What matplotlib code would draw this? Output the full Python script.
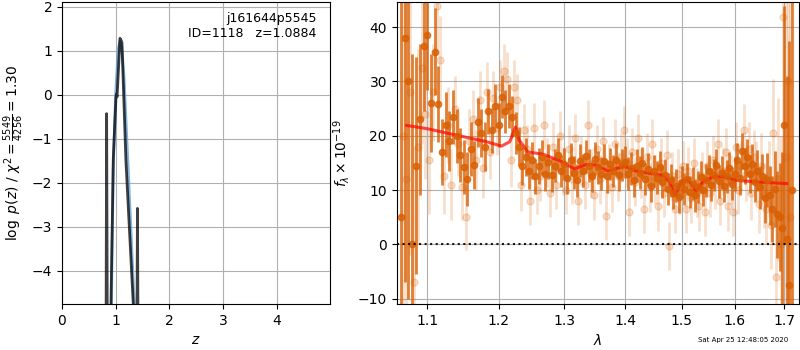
import matplotlib
matplotlib.use('Agg')
import matplotlib.pyplot as plt
from matplotlib.ticker import NullLocator
import numpy as np

# p(z) panel
z_chi = [0.78, 0.815, 0.831, 0.85, 0.89, 0.912, 0.955, 1.005, 1.017, 1.025, 1.04, 1.079, 1.095, 1.116,
         1.19, 1.327, 1.345, 1.385, 1.405, 1.425, 1.55]
logp_chi = [-8, -8, -0.43, -8, -8, -4.75, -1.46, -0.05, 0.02, -0.05, 0.3, 1.28, 1.25, 1.18,
            -1.5, -4.75, -8, -8, -2.58, -8, -8]
z_pz = [0.89, 0.92, 0.955, 0.998, 1.048, 1.08, 1.11, 1.153, 1.233, 1.345, 1.37]
logp_pz = [-7, -4.75, -1.6, 0.0, 1.05, 1.22, 1.1, 0.44, -1.69, -4.75, -6]

# spectrum panel, grism 1 (dark) and grism 2 (light)
wave1 = np.round(np.arange(1.065, 1.7151, 0.005), 4)
flux1 = [5, 38, 30, 0, 14.5, 23, 36.5, 38.5, 26, 35.5,
         25.8, 17, 22, 19, 23.5, 20, 16.5, 14.2, 12, 17.5,
         14.6, 22.5, 20.5, 18, 24.5, 21, 25.5, 22, 27.2, 24.5,
         25.5, 23.5, 20.5, 18, 14.5, 16, 13.5, 15.5, 12.5, 14.5,
         16, 13, 15.2, 12.8, 14.5, 16.5, 13.5, 14.8, 12.2, 15.6,
         13.2, 11.8, 15.4, 13.6, 16.2, 14.5, 12.6, 15.8, 14.2, 13.0,
         15.4, 12.5, 14.8, 13.5, 15.6, 12.8, 14.6, 15.2, 13.0, 14.0,
         11.8, 14.5, 13.2, 15.0, 12.0, 13.8, 10.8, 13.5, 12.3, 14.2,
         11.5, 12.8, 10.2, 11.8, 9.5, 10.8, 8.8, 11.5, 10.2, 12.0,
         9.6, 11.2, 9.0, 10.6, 12.4, 10.0, 11.8, 13.5, 11.0, 12.8,
         14.6, 11.6, 13.2, 10.8, 12.5, 14.0, 11.2, 13.0, 15.5, 12.2,
         17.2, 14.5, 16.0, 13.0, 14.8, 11.5, 13.6, 10.5, 12.5, 8.5,
         11.8, 9.0, 6.5, 10.2, 5.5, 5.0, 3, 22, 1, -7.5, 10]
err1 = [60, 45, 40, 35, 20, 14, 12, 10, 9, 8,
        7, 6, 6, 5.5, 5, 5, 5, 5, 5, 5,
        4.5, 4.5, 4.5, 4.5, 4.2, 4.2, 4, 4, 4, 4,
        4, 3.8, 3.8, 3.6, 3.5, 3.5, 3.4, 3.4, 3.3, 3.3,
        3.2, 3.2, 3.2, 3.1, 3.1, 3, 3, 3, 3, 3,
        3, 3, 3, 3, 3, 3, 3, 3, 3, 3,
        3, 3, 3, 3, 3, 3, 3, 3, 3, 3,
        3, 3, 3, 3, 3, 3, 3, 3, 3, 3,
        3, 3, 3, 3, 3, 3, 3, 3, 3, 3,
        3, 3, 3, 3, 3, 3, 3, 3, 3, 3,
        3, 3, 3, 3, 3, 3, 3.1, 3.1, 3.2, 3.2,
        3.3, 3.3, 3.4, 3.5, 3.6, 3.7, 3.8, 4, 4.2, 4.5,
        5, 5.5, 6, 7, 8, 10, 14, 22, 30, 45, 60]

wave2 = np.round(np.arange(1.0675, 1.7126, 0.005), 4)
flux2 = [20, 12, 28, -7, 18, 32.5, 24, 15.5, 28, 44,
         34, 12.5, 22, 11, 25, 18.5, 10.5, 5, 19, 23,
         15.5, 26.5, 14, 28, 17, 27, 21.5, 29, 32, 30.5,
         15.5, 29, 26.5, 11, 21, 17.5, 8, 21.5, 10, 12.5,
         22, 15, 9.5, 18, 11, 20, 13.5, 10, 17.5, 12,
         19.5, 8, 15.5, 11, 22, 13, 9, 17.5, 12, 19,
         5.3, 14, 10.5, 18.5, 12.5, 16, 21, 15, 6, 17,
         11.5, 19.5, 13, 6.5, 16, 10.5, 18.5, 12, 7, 15,
         9.5, 16.5, -0.3, 12.5, 6.5, 13, 10, 14.5, 6.5, 13.5,
         8.5, 15, 9.5, 7, 12.5, 6, 14.5, 9.5, 15.5, 11,
         18.5, 8, 13.5, 17, 7, 12, 6, 18, 10, 14.5,
         21, 13, 17.5, 9.5, 16, 13.5, 7.5, 14.5, 9, 6.5,
         12, 3.5, 20.5, -6, 12, 0, 41.8, 16, 30, 5]
err2 = [50, 40, 30, 25, 18, 14, 12, 10, 9, 9,
        8, 7, 7, 6.5, 6, 6, 6, 6, 6, 5.5,
        5.5, 5.5, 5.5, 5.5, 5, 5, 5, 5, 5, 5,
        5, 5, 4.8, 4.8, 4.8, 4.5, 4.5, 4.5, 4.5, 4.5,
        4.5, 4.5, 4.5, 4.5, 4.5, 4.5, 4.5, 4.5, 4.5, 4.5,
        4.5, 4.5, 4.5, 4.5, 4.5, 4.5, 4.5, 4.5, 4.5, 4.5,
        4.5, 4.5, 4.5, 4.5, 4.5, 4.5, 4.5, 4.5, 4.5, 4.5,
        4.5, 4.5, 4.5, 4.5, 4.5, 4.5, 4.5, 4.5, 4.5, 4.5,
        4.5, 4.5, 4.5, 4.5, 4.5, 4.5, 4.5, 4.5, 4.5, 4.5,
        4.5, 4.5, 4.5, 4.5, 4.5, 4.5, 4.5, 4.5, 4.5, 4.5,
        4.5, 4.5, 4.5, 4.5, 4.5, 4.5, 4.5, 4.5, 4.5, 4.5,
        4.8, 5, 5, 5, 5, 5.5, 5.5, 6, 6, 6.5,
        7, 8, 10, 12, 15, 20, 30, 35, 40, 50]

# best-fit model
wave_m = [1.0728, 1.100, 1.140, 1.1824, 1.2042, 1.2164, 1.2249, 1.2303, 1.2438, 1.2667,
          1.2927, 1.3165, 1.3354, 1.3517, 1.3710, 1.3991, 1.4191, 1.4658, 1.4778, 1.4881,
          1.4990, 1.5111, 1.5195, 1.5266, 1.5389, 1.5577, 1.5768, 1.6027, 1.6422, 1.7045]
flux_m = [21.9, 21.3, 20.1, 18.9, 18.1, 18.9, 21.6, 19.2, 17.0, 16.6,
          15.4, 13.9, 14.7, 14.6, 13.5, 14.4, 13.5, 12.7, 11.5, 9.0,
          11.5, 11.9, 10.9, 9.8, 11.5, 12.4, 12.5, 11.8, 11.5, 11.2]

fig = plt.figure(figsize=(8, 3.5), dpi=100)

ax = fig.add_axes([0.0775, 0.1314, 0.335, 0.8637])
ax.plot(z_pz, logp_pz, color='#5b9bd5', alpha=0.75, lw=2)
ax.plot(z_chi, logp_chi, color='k', alpha=0.75, lw=2)
ax.set_xlim(0, 4.99)
ax.set_ylim(-4.75, 2.11)
ax.set_xticks([0, 1, 2, 3, 4])
ax.set_yticks([-4, -3, -2, -1, 0, 1, 2])
ax.grid()
ax.set_xlabel(r'$z$')
ax.set_ylabel(r'$\log\ p(z)$' + ' / ' + r'$\chi^2=\frac{5549}{4256}=1.30$')
ax.text(0.95, 0.965, 'j161644p5545\nID=1118   z=1.0884', ha='right', va='top',
        transform=ax.transAxes, fontsize=9)

ax2 = fig.add_axes([0.4959, 0.1314, 0.5029, 0.8637])
ax2.errorbar(wave2, flux2, yerr=err2, color='#d95f02', alpha=0.2, marker='o', markersize=5,
             linestyle='None', elinewidth=2, capsize=0)
ax2.errorbar(wave1, flux1, yerr=err1, color='#d95f02', alpha=0.8, marker='o', markersize=4.5,
             linestyle='None', elinewidth=2, capsize=0)
ax2.plot(wave_m, flux_m, color='r', alpha=0.7, lw=2.2)
ax2.plot([1.06, 1.73], [0, 0], color='k', linestyle=':', lw=1.5, alpha=0.9, zorder=10)
ax2.set_xscale('log')
ax2.set_xlim(1.0598, 1.7307)
ax2.set_ylim(-11, 44.7)
ax2.set_xticks([1.1, 1.2, 1.3, 1.4, 1.5, 1.6, 1.7])
ax2.set_xticklabels(['1.1', '1.2', '1.3', '1.4', '1.5', '1.6', '1.7'])
ax2.xaxis.set_minor_locator(NullLocator())
ax2.set_yticks([-10, 0, 10, 20, 30, 40])
ax2.grid()
ax2.set_xlabel(r'$\lambda$')
ax2.set_ylabel(r'$f_\lambda\times10^{-19}$')

fig.text(0.985, 0.02, 'Sat Apr 25 12:48:05 2020', ha='right', va='bottom', fontsize=5)

plt.savefig('out.png')
